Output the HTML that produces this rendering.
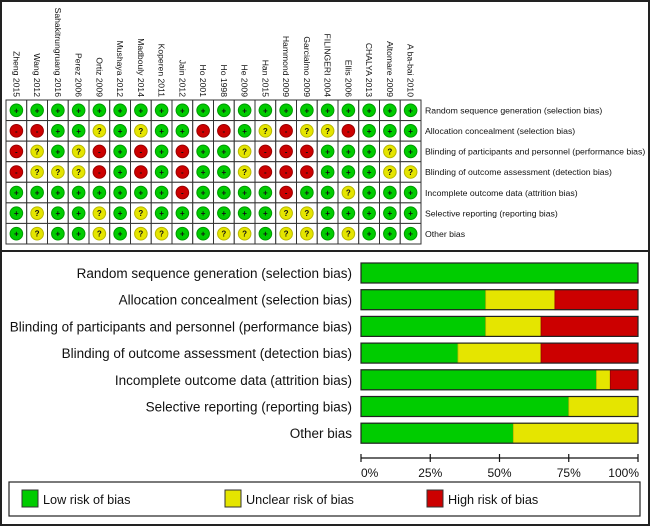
<!DOCTYPE html>
<html><head><meta charset="utf-8"><style>
body{margin:0;background:#fff;}
svg{display:block;font-family:"Liberation Sans",Arial,sans-serif;}
</style></head><body>
<svg id="chart" width="650" height="526" viewBox="0 0 650 526">
<rect x="1" y="1" width="648" height="250" fill="#fff" stroke="#222" stroke-width="2"/>
<rect x="1" y="251" width="648" height="274" fill="#fff" stroke="#222" stroke-width="2"/>
<g id="grid"></g>
<g id="bars"></g>
<g id="legend"></g>
</svg>
<script>
const studies=["Zheng 2015","Wang 2012","Sahakitrungruang 2016","Perez 2006","Ortiz 2009","Mushaya 2012","Madbouly 2014","Koperen 2011","Jain 2012","Ho 2001","Ho 1998","He 2009","Han 2015","Hammond 2009","Garcialmo 2009","FILINGERI 2004","Ellis 2006","CHALYA 2013","Altomare 2009","A ba-bai 2010"];
const domains=["Random sequence generation (selection bias)","Allocation concealment (selection bias)","Blinding of participants and personnel (performance bias)","Blinding of outcome assessment (detection bias)","Incomplete outcome data (attrition bias)","Selective reporting (reporting bias)","Other bias"];
const judgements=[
"gggggggggggggggggggg",
"rrggygyggrrgyryyrggg",
"rygyrgrgrggyrrrgggyg",
"ryyyrgrgrggyrrrgggyy",
"ggggggggrggggrggyggg",
"gyggygyggggggyyggggg",
"gyggygyyggyygyygyggg"
];
const lowPct=[100,45,45,35,85,75,55];
const unclearPct=[0,25,20,30,5,25,45];
const highPct=[0,30,35,35,10,0,0];
const axisTicks=[0,25,50,75,100];
const legendLabels=["Low risk of bias","Unclear risk of bias","High risk of bias"];

const NS="http://www.w3.org/2000/svg";
const COL={g:"#00cc00",y:"#e5e500",r:"#cc0000"};
const EDGE={g:"#009900",y:"#b8b800",r:"#990000"};
const SYM={g:"+",y:"?",r:"-"};
function mk(t,a,p){const e=document.createElementNS(NS,t);for(const k in a)e.setAttribute(k,a[k]);p.appendChild(e);return e;}

const grid=document.getElementById('grid');
const gx0=6,gx1=421,gy0=100,gy1=244;
const cw=(gx1-gx0)/studies.length, rh=(gy1-gy0)/domains.length;
const colX=i=>gx0+i*cw, rowY=j=>gy0+j*rh;
studies.forEach((s,i)=>{
  const t=mk('text',{x:0,y:0,'font-size':8.6,fill:'#111',transform:`translate(${colX(i)+cw/2-3},97) rotate(90)`,'text-anchor':'end'},grid);
  
  
  t.textContent=s;
});
domains.forEach((d,j)=>{
  const t=mk('text',{x:425,y:rowY(j)+rh/2+3.2,'font-size':8.7,fill:'#111'},grid);
  
  
  t.textContent=d;
  for(let i=0;i<studies.length;i++){
    const v=judgements[j][i];
    const r=mk('rect',{x:colX(i),y:rowY(j),width:cw,height:rh,fill:'#fff',stroke:'#333','stroke-width':1},grid);
    
    
    const c=mk('circle',{cx:colX(i)+cw/2,cy:rowY(j)+rh/2,r:6.3,fill:COL[v],stroke:EDGE[v],'stroke-width':1},grid);
    
    
    const s=mk('text',{x:colX(i)+cw/2,y:rowY(j)+rh/2+3,'font-size':8,'font-weight':'bold','text-anchor':'middle',fill:'#111'},grid);
    
    
    s.textContent=SYM[v];
  }
});

const bars=document.getElementById('bars');
const bx0=361,bx1=638;
const xs=p=>bx0+(bx1-bx0)*p/100;
const by0=263,bstep=26.7,bh=20;
domains.forEach((d,j)=>{
  const y=by0+j*bstep;
  const t=mk('text',{x:352,y:y+bh/2+5,'font-size':13.5,'text-anchor':'end',fill:'#111'},bars);
  
  
  t.textContent=d;
  const segs=[[lowPct[j],'g'],[unclearPct[j],'y'],[highPct[j],'r']];
  let acc=0;
  segs.forEach(([p,k])=>{
    if(p<=0)return;
    const r=mk('rect',{x:xs(acc),y:y,width:xs(acc+p)-xs(acc),height:bh,fill:COL[k],stroke:EDGE[k],'stroke-width':0.8},bars);
    
    
    acc+=p;
  });
  const o=mk('rect',{x:bx0,y:y,width:bx1-bx0,height:bh,fill:'none',stroke:'#222','stroke-width':1.2},bars);
  
  
});
const ax=mk('line',{x1:bx0,x2:bx1,y1:458,y2:458,stroke:'#111','stroke-width':1.2},bars);


axisTicks.forEach((v,i)=>{
  const tk=mk('line',{x1:xs(v),x2:xs(v),y1:454,y2:462,stroke:'#111','stroke-width':1.2},bars);
  
  
  const anchor=i===0?'start':(i===axisTicks.length-1?'end':'middle');
  const t=mk('text',{x:xs(v)+(i===axisTicks.length-1?1:0),y:477,'font-size':12,'text-anchor':anchor,fill:'#111'},bars);
  
  
  t.textContent=v+'%';
});

const lg=document.getElementById('legend');
const lb=mk('rect',{x:9,y:482,width:631,height:34,fill:'#fff',stroke:'#222','stroke-width':1.2},lg);


const lx=[22,225,427];
['g','y','r'].forEach((k,i)=>{
  const s=mk('rect',{x:lx[i],y:490,width:16,height:17,fill:COL[k],stroke:'#333','stroke-width':1},lg);
  
  
  const t=mk('text',{x:lx[i]+21,y:504,'font-size':12.7,fill:'#111'},lg);
  
  
  t.textContent=legendLabels[i];
});
</script>
</body></html>
